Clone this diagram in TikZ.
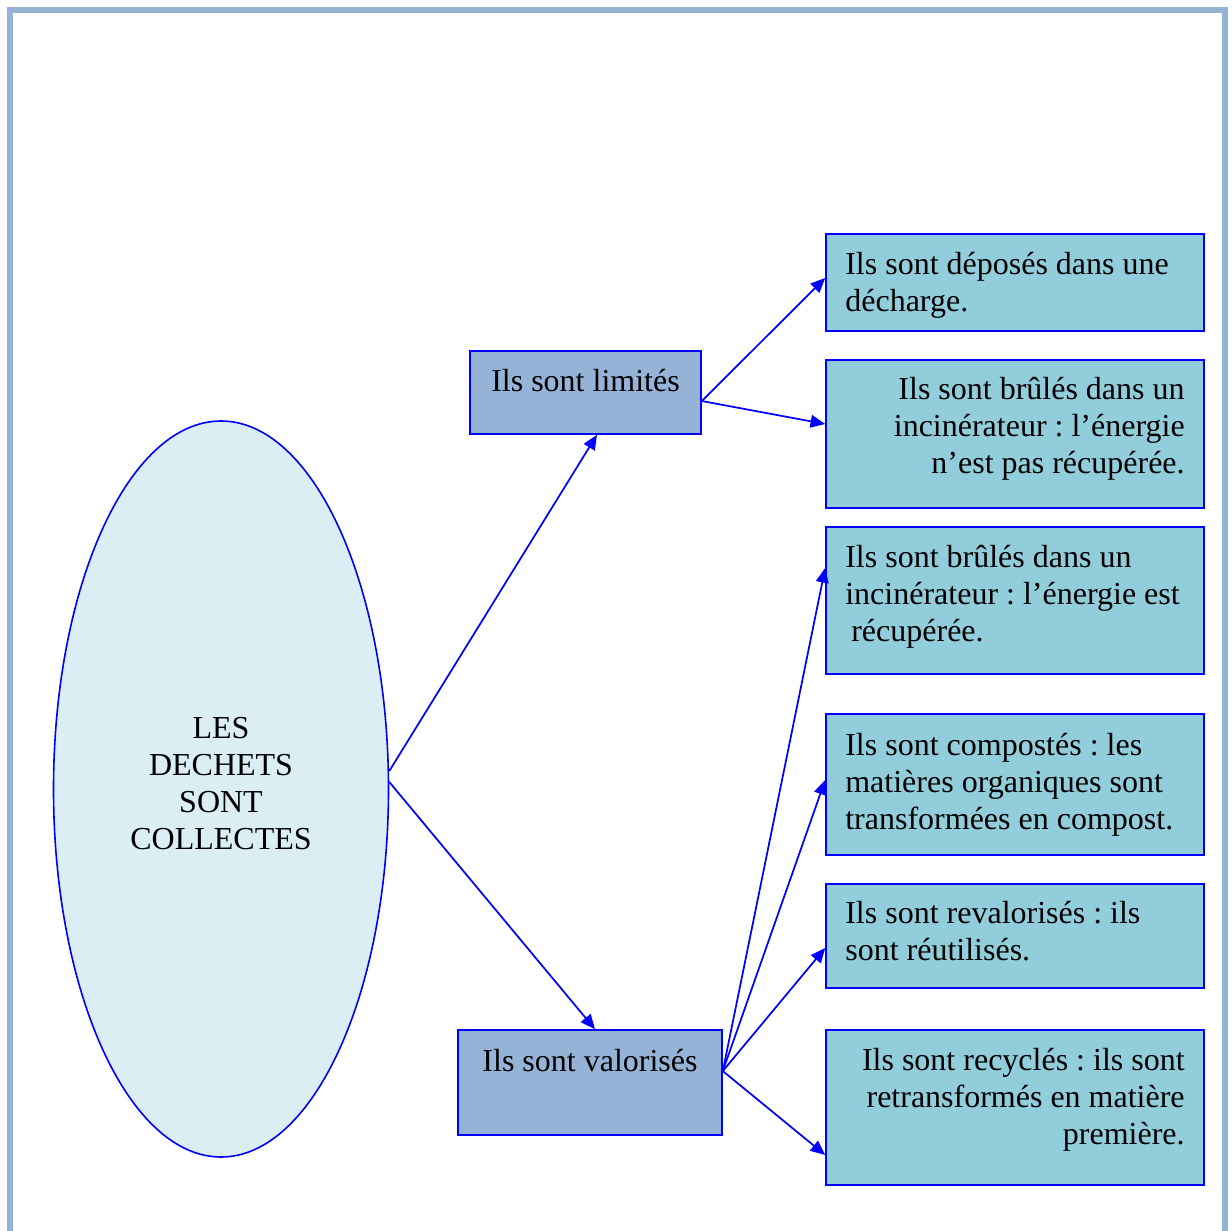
\documentclass[tikz,border=0pt]{standalone}
\usepackage{fontspec}
\setmainfont{Liberation Serif}
\frenchspacing
\usetikzlibrary{arrows.meta,shapes.geometric}
\definecolor{framecol}{HTML}{95B3D7}
\definecolor{darkfill}{HTML}{95B3D7}
\definecolor{lightfill}{HTML}{92CDDC}
\definecolor{ovalfill}{HTML}{DAEEF3}
\definecolor{edgeblue}{HTML}{0000FF}

\begin{document}
\begin{tikzpicture}[x=0.75pt,y=0.75pt,yscale=-1,xscale=1,
  every node/.style={font=\fontsize{24pt}{27.75pt}\selectfont},
  oval/.style={ellipse,draw=edgeblue,line width=1.2pt,fill=ovalfill,inner sep=0pt,
    minimum width=251.25pt,minimum height=552pt,text width=160pt,align=center,text height=17pt},
  darkbox/.style={rectangle,draw=edgeblue,line width=1.2pt,fill=darkfill,inner sep=0pt,text height=17pt},
  lightbox/.style={rectangle,draw=edgeblue,line width=1.2pt,fill=lightfill,inner xsep=14.5pt,inner ysep=0pt,
    minimum width=283.5pt,text width=254.5pt,text height=17pt},
  arrowline/.style={draw=edgeblue,line width=1.3pt,-{Triangle[length=11pt,width=9.5pt]}}]
\useasboundingbox (0,0) rectangle (1232,1231);

%Shape: Frame
\draw [framecol,line width=4.5pt] (10,1231) -- (10,10) -- (1224.5,10) -- (1224.5,1231) ;

%Shape: Ellipse
\draw (221,789) node [oval,text depth=93.5pt] (dechets) {LES\\DECHETS\\SONT\\COLLECTES};

%Shape: Rectangle
\draw (585.5,392.5) node [darkbox,minimum width=173.25pt,minimum height=62.25pt,text depth=19.25pt] (limites) {Ils sont limités};
%Shape: Rectangle
\draw (590,1082.5) node [darkbox,minimum width=198pt,minimum height=78.75pt,text depth=34.25pt] (valorises) {Ils sont valorisés};

%Shape: Rectangle
\draw (1015,282.5) node [lightbox,align=flush left,minimum height=72.75pt,text depth=29.75pt] (decharge) {Ils sont déposés dans une\\décharge.};
%Shape: Rectangle
\draw (1015,434) node [lightbox,align=flush right,minimum height=111pt,text depth=69.5pt] (brulesnon) {Ils sont brûlés dans un\\incinérateur : l’énergie\\n’est pas récupérée.};
%Shape: Rectangle
\draw (1015,600.5) node [lightbox,align=flush left,minimum height=110.25pt,text depth=67.25pt] (brulesoui) {Ils sont brûlés dans un\\incinérateur : l’énergie est\\\hspace*{4.5pt}récupérée.};
%Shape: Rectangle
\draw (1015,784.5) node [lightbox,align=flush left,minimum height=105.75pt,text depth=61.25pt] (compost) {Ils sont compostés : les\\matières organiques sont\\transformées en compost.};
%Shape: Rectangle
\draw (1015,936) node [lightbox,align=flush left,minimum height=78pt,text depth=36.5pt] (revalor) {Ils sont revalorisés : ils\\sont réutilisés.};
%Shape: Rectangle
\draw (1015,1107.5) node [lightbox,align=flush right,minimum height=116.25pt,text depth=73.25pt] (recycle) {Ils sont recyclés : ils sont\\retransformés en matière\\première.};

%Straight Lines
\draw [arrowline] ([yshift=-13.5pt]dechets.east) -- ([xshift=8.6pt]limites.south) ;
%Straight Lines
\draw [arrowline] ([yshift=-5.25pt]dechets.east) -- ([xshift=3.75pt]valorises.north) ;
%Straight Lines
\draw [arrowline] ([yshift=6.4pt]limites.east) -- ([yshift=-3.4pt]decharge.west) ;
%Straight Lines
\draw [arrowline] ([yshift=6.4pt]limites.east) -- ([yshift=-7.5pt]brulesnon.west) ;
%Straight Lines
\draw [arrowline] ([yshift=-8.6pt]valorises.east) -- ([yshift=-24.4pt]brulesoui.west) ;
%Straight Lines
\draw [arrowline] ([yshift=-8.6pt]valorises.east) -- ([yshift=-3.4pt]compost.west) ;
%Straight Lines
\draw [arrowline] ([yshift=-8.6pt]valorises.east) -- ([yshift=9pt]revalor.west) ;
%Straight Lines
\draw [arrowline] ([yshift=-8.6pt]valorises.east) -- ([yshift=35.6pt]recycle.west) ;

\end{tikzpicture}
\end{document}
